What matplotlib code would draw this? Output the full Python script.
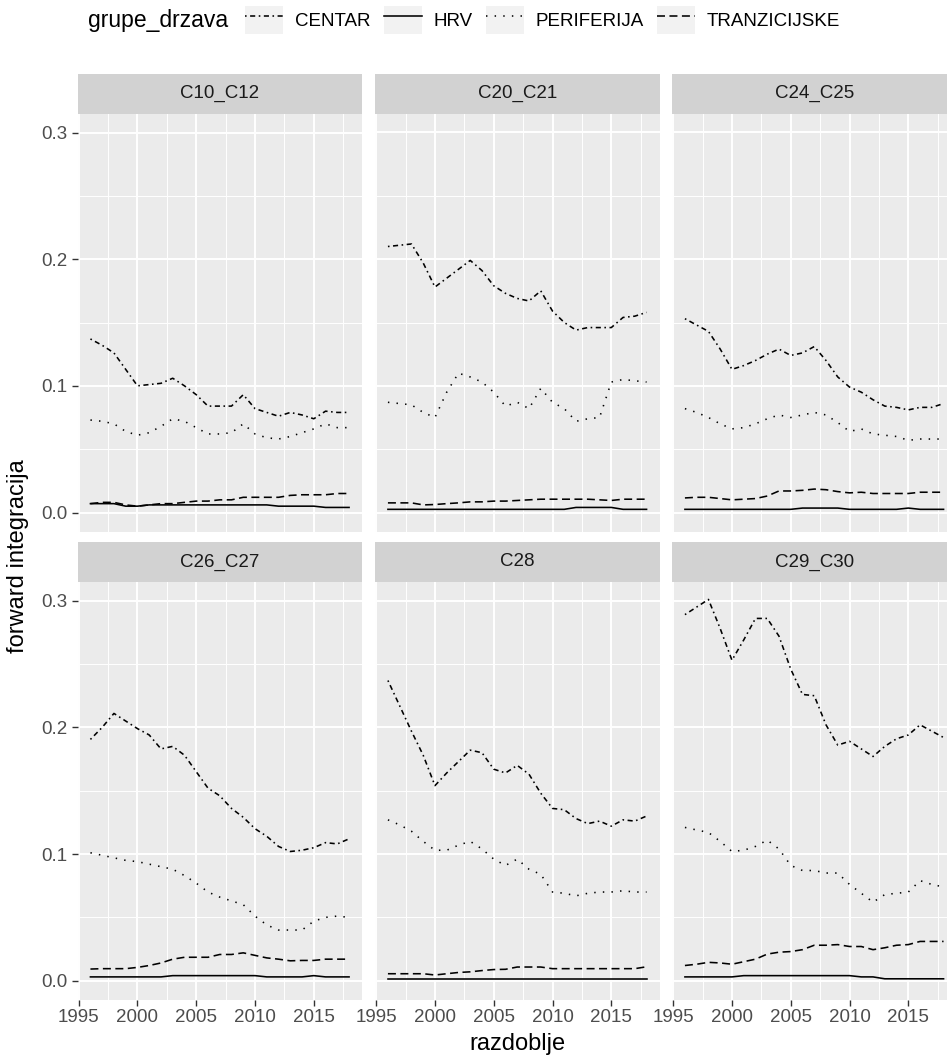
import matplotlib
matplotlib.use("Agg")
import matplotlib.pyplot as plt
from matplotlib.lines import Line2D
from matplotlib.patches import Patch
from matplotlib.legend_handler import HandlerTuple
from matplotlib.ticker import MultipleLocator

plt.rcParams['font.family'] = ['Liberation Sans', 'DejaVu Sans']

years = list(range(1996, 2019))
groups = ["CENTAR", "HRV", "PERIFERIJA", "TRANZICIJSKE"]
panel_names = ["C10_C12", "C20_C21", "C24_C25", "C26_C27", "C28", "C29_C30"]

# C10_C12
c10_centar = [0.137, 0.132, 0.126, 0.113, 0.100, 0.101, 0.102, 0.106, 0.100, 0.093, 0.084, 0.084,
              0.084, 0.093, 0.082, 0.079, 0.076, 0.079, 0.077, 0.074, 0.080, 0.079, 0.079]
c10_hrv = [0.007, 0.007, 0.007, 0.005, 0.005, 0.006, 0.006, 0.006, 0.006, 0.006, 0.006, 0.006,
           0.006, 0.006, 0.006, 0.006, 0.005, 0.005, 0.005, 0.005, 0.004, 0.004, 0.004]
c10_periferija = [0.073, 0.072, 0.070, 0.064, 0.061, 0.063, 0.068, 0.074, 0.072, 0.067, 0.062, 0.062,
                  0.063, 0.070, 0.062, 0.059, 0.058, 0.060, 0.063, 0.066, 0.070, 0.067, 0.067]
c10_tranz = [0.007, 0.008, 0.008, 0.006, 0.005, 0.006, 0.007, 0.007, 0.008, 0.009, 0.009, 0.010,
             0.010, 0.012, 0.012, 0.012, 0.012, 0.0135, 0.014, 0.014, 0.014, 0.015, 0.015]

# C20_C21
c20_centar = [0.210, 0.211, 0.212, 0.197, 0.178, 0.185, 0.192, 0.199, 0.191, 0.179, 0.173, 0.169,
              0.167, 0.175, 0.159, 0.150, 0.144, 0.146, 0.146, 0.146, 0.154, 0.155, 0.158]
c20_hrv = [0.0025, 0.0025, 0.0025, 0.0025, 0.0025, 0.0025, 0.0025, 0.0025, 0.0025, 0.0025, 0.0025, 0.0025,
           0.0025, 0.0025, 0.0025, 0.0025, 0.004, 0.004, 0.004, 0.004, 0.0025, 0.0025, 0.0025]
c20_periferija = [0.087, 0.086, 0.085, 0.079, 0.075, 0.095, 0.110, 0.107, 0.103, 0.095, 0.084, 0.087,
                  0.082, 0.098, 0.087, 0.082, 0.072, 0.074, 0.075, 0.103, 0.105, 0.104, 0.103]
c20_tranz = [0.0076, 0.0076, 0.0076, 0.006, 0.0063, 0.007, 0.0076, 0.0084, 0.0084, 0.009, 0.009, 0.0095,
             0.010, 0.0105, 0.0105, 0.0105, 0.0105, 0.0105, 0.010, 0.0095, 0.0105, 0.0105, 0.0105]

# C24_C25
c24_centar = [0.153, 0.148, 0.143, 0.129, 0.113, 0.116, 0.120, 0.125, 0.129, 0.124, 0.126, 0.131,
              0.120, 0.107, 0.099, 0.095, 0.089, 0.084, 0.083, 0.081, 0.083, 0.083, 0.086]
c24_hrv = [0.0025, 0.0025, 0.0025, 0.0025, 0.0025, 0.0025, 0.0025, 0.0025, 0.0025, 0.0025, 0.0035, 0.0035,
           0.0035, 0.0035, 0.0025, 0.0025, 0.0025, 0.0025, 0.0025, 0.0035, 0.0025, 0.0025, 0.0025]
c24_periferija = [0.082, 0.079, 0.075, 0.070, 0.066, 0.067, 0.070, 0.074, 0.077, 0.075, 0.077, 0.079,
                  0.077, 0.071, 0.064, 0.066, 0.062, 0.061, 0.060, 0.057, 0.058, 0.058, 0.058]
c24_tranz = [0.0115, 0.012, 0.012, 0.011, 0.010, 0.0105, 0.011, 0.013, 0.017, 0.017, 0.0175, 0.0185,
             0.018, 0.0165, 0.0155, 0.016, 0.015, 0.015, 0.015, 0.015, 0.016, 0.016, 0.016]

# C26_C27
c26_centar = [0.1905, 0.200, 0.211, 0.205, 0.199, 0.194, 0.183, 0.185, 0.178, 0.165, 0.152, 0.146,
              0.136, 0.129, 0.120, 0.114, 0.106, 0.102, 0.103, 0.105, 0.109, 0.108, 0.112]
c26_hrv = [0.003, 0.003, 0.003, 0.003, 0.003, 0.003, 0.003, 0.004, 0.004, 0.004, 0.004, 0.004,
           0.004, 0.004, 0.004, 0.003, 0.003, 0.003, 0.003, 0.004, 0.003, 0.003, 0.003]
c26_periferija = [0.101, 0.099, 0.097, 0.095, 0.094, 0.092, 0.090, 0.088, 0.083, 0.077, 0.070, 0.066,
                  0.063, 0.060, 0.051, 0.044, 0.040, 0.040, 0.040, 0.047, 0.050, 0.051, 0.050]
c26_tranz = [0.0092, 0.0095, 0.0095, 0.0095, 0.0105, 0.012, 0.014, 0.017, 0.0185, 0.0185, 0.0185, 0.0207,
             0.0207, 0.022, 0.020, 0.018, 0.017, 0.0157, 0.016, 0.016, 0.017, 0.017, 0.017]

# C28
c28_centar = [0.237, 0.217, 0.197, 0.178, 0.154, 0.164, 0.173, 0.182, 0.180, 0.167, 0.164, 0.170,
              0.163, 0.148, 0.136, 0.135, 0.128, 0.124, 0.126, 0.122, 0.127, 0.126, 0.130]
c28_hrv = [0.001, 0.001, 0.001, 0.001, 0.001, 0.001, 0.001, 0.001, 0.001, 0.001, 0.001, 0.001,
           0.001, 0.001, 0.001, 0.001, 0.001, 0.001, 0.001, 0.001, 0.001, 0.001, 0.001]
c28_periferija = [0.127, 0.123, 0.118, 0.110, 0.103, 0.103, 0.107, 0.110, 0.104, 0.096, 0.091, 0.096,
                  0.088, 0.084, 0.070, 0.069, 0.067, 0.069, 0.070, 0.070, 0.071, 0.070, 0.070]
c28_tranz = [0.0055, 0.0055, 0.0055, 0.0055, 0.0045, 0.0055, 0.0065, 0.007, 0.008, 0.0088, 0.009, 0.0108,
             0.0108, 0.0108, 0.0095, 0.0095, 0.0095, 0.0095, 0.0095, 0.0095, 0.0095, 0.0095, 0.011]

# C29_C30
c29_centar = [0.289, 0.295, 0.301, 0.278, 0.253, 0.269, 0.286, 0.286, 0.272, 0.246, 0.226, 0.225,
              0.202, 0.186, 0.189, 0.183, 0.177, 0.185, 0.191, 0.194, 0.202, 0.197, 0.192]
c29_hrv = [0.003, 0.003, 0.003, 0.003, 0.003, 0.004, 0.004, 0.004, 0.004, 0.004, 0.004, 0.004,
           0.004, 0.004, 0.004, 0.003, 0.003, 0.0015, 0.0015, 0.0015, 0.0015, 0.0015, 0.0015]
c29_periferija = [0.121, 0.119, 0.117, 0.110, 0.102, 0.103, 0.106, 0.111, 0.104, 0.091, 0.087, 0.087,
                  0.085, 0.085, 0.076, 0.069, 0.062, 0.068, 0.069, 0.070, 0.079, 0.076, 0.074]
c29_tranz = [0.012, 0.013, 0.0145, 0.014, 0.013, 0.015, 0.017, 0.021, 0.0225, 0.023, 0.0245, 0.028,
             0.028, 0.0285, 0.027, 0.027, 0.0245, 0.026, 0.028, 0.0285, 0.031, 0.031, 0.031]

panel_series = [
    [c10_centar, c10_hrv, c10_periferija, c10_tranz],
    [c20_centar, c20_hrv, c20_periferija, c20_tranz],
    [c24_centar, c24_hrv, c24_periferija, c24_tranz],
    [c26_centar, c26_hrv, c26_periferija, c26_tranz],
    [c28_centar, c28_hrv, c28_periferija, c28_tranz],
    [c29_centar, c29_hrv, c29_periferija, c29_tranz],
]

# linetypes (on/off in points)
styles = {
    "CENTAR": (0, (1.0, 2.2, 3.2, 2.2)),
    "HRV": "-",
    "PERIFERIJA": (0, (0.9, 4.5)),
    "TRANZICIJSKE": (0, (5.0, 2.8)),
}

W, H = 947, 1059
fig = plt.figure(figsize=(W / 100, H / 100), dpi=100)

col_left = [77.5, 375, 672]
panel_w = 284.5
row_top = [113.5, 581.7]
panel_h = 418
strip_h = 39.5

tick_col = "#4D4D4D"
for i, name in enumerate(panel_names):
    r, c = divmod(i, 3)
    x0 = col_left[c]
    y_top = row_top[r]
    ax = fig.add_axes([x0 / W, 1 - (y_top + panel_h) / H, panel_w / W, panel_h / H])
    ax.set_facecolor("#EBEBEB")
    for s in ax.spines.values():
        s.set_visible(False)
    ax.set_xlim(1994.9, 2019.1)
    ax.set_ylim(-0.015, 0.315)
    ax.xaxis.set_major_locator(MultipleLocator(5))
    ax.xaxis.set_minor_locator(MultipleLocator(2.5))
    ax.yaxis.set_major_locator(MultipleLocator(0.1))
    ax.yaxis.set_minor_locator(MultipleLocator(0.05))
    ax.grid(which="major", color="white", lw=1.4)
    ax.grid(which="minor", color="white", lw=0.7)
    ax.set_axisbelow(True)
    ax.tick_params(which="minor", length=0)
    ax.tick_params(which="major", length=4, width=1.0, color="#333333",
                   labelsize=13.5, labelcolor=tick_col, pad=3)
    if c != 0:
        ax.tick_params(axis="y", which="major", length=0, labelleft=False)
    else:
        ax.set_yticks([0.0, 0.1, 0.2, 0.3])
        ax.set_yticklabels(["0.0", "0.1", "0.2", "0.3"])
    if r != 1:
        ax.tick_params(axis="x", which="major", length=0, labelbottom=False)

    for g, vals in zip(groups, panel_series[i]):
        ax.plot(years, vals, color="black", lw=1.15, linestyle=styles[g])

    # strip
    sax = fig.add_axes([x0 / W, 1 - y_top / H, panel_w / W, strip_h / H])
    sax.set_facecolor("#D2D2D2")
    sax.set_xticks([])
    sax.set_yticks([])
    for s in sax.spines.values():
        s.set_visible(False)
    sax.text(0.5, 0.5, name, ha="center", va="center", fontsize=13.5, color="#1A1A1A",
             transform=sax.transAxes)

fig.text(18 / W, 1 - 556 / H, "forward integracija", rotation=90, ha="center", va="center",
         fontsize=17, color="black")
fig.text(517 / W, 1 - 1044 / H, "razdoblje", ha="center", va="center", fontsize=17, color="black")

# legend
fig.text(88 / W, 1 - 21 / H, "grupe_drzava", ha="left", va="center", fontsize=16.5)
handles = [(Patch(facecolor="#F2F2F2", edgecolor="none"),
            Line2D([], [], color="black", lw=1.15, linestyle=styles[g])) for g in groups]
fig.legend(handles, groups, ncol=4, loc="center left", bbox_to_anchor=(245 / W, 1 - 20 / H),
           frameon=False, fontsize=13.5, handlelength=2.03, handleheight=1.85,
           handletextpad=0.64, columnspacing=0.69, borderaxespad=0, borderpad=0,
           handler_map={tuple: HandlerTuple(ndivide=1)})

fig.savefig("out.png", dpi=100)
